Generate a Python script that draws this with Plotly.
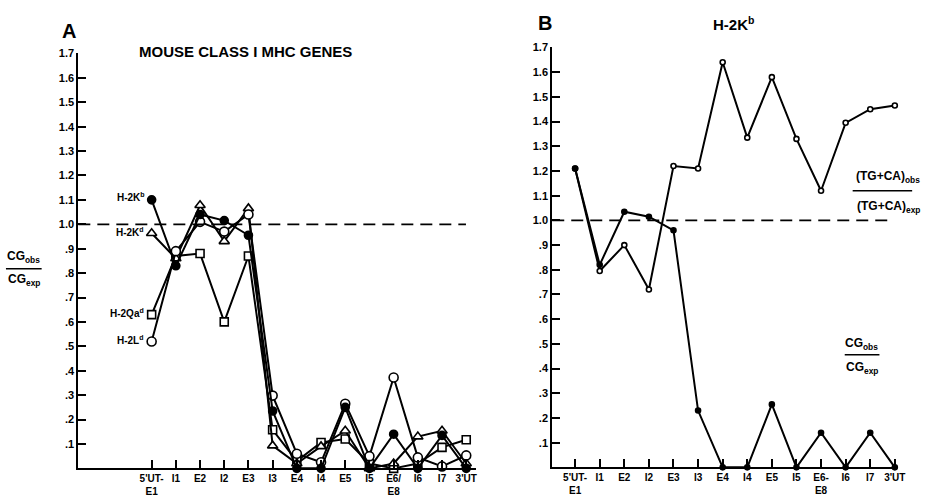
import plotly.graph_objects as go

# ---------------- data ----------------
cats_a = ["5'UT-<br>E1", "I1", "E2", "I2", "E3", "I3", "E4", "I4", "E5", "I5", "E6/<br>E8", "I6", "I7", "3'UT"]
cats_b = ["5'UT-<br>E1", "I1", "E2", "I2", "E3", "I3", "E4", "I4", "E5", "I5", "E6-<br>E8", "I6", "I7", "3'UT"]

h2kb = [1.10, 0.83, 1.04, 1.015, 0.955, 0.235, 0.00, 0.00, 0.25, 0.00, 0.14, 0.00, 0.135, 0.00]
h2kd = [0.963, 0.86, 1.078, 0.93, 1.065, 0.093, 0.02, 0.09, 0.154, 0.00, 0.02, 0.13, 0.154, 0.02]
h2qad = [0.63, 0.87, 0.88, 0.60, 0.87, 0.158, 0.03, 0.106, 0.12, 0.02, 0.00, 0.02, 0.086, 0.117]
h2ld = [0.52, 0.89, 1.01, 0.97, 1.04, 0.298, 0.06, 0.025, 0.265, 0.05, 0.372, 0.045, 0.008, 0.053]

tgca_b = [1.21, 0.795, 0.90, 0.72, 1.22, 1.21, 1.64, 1.335, 1.58, 1.33, 1.12, 1.395, 1.45, 1.465]
cg_b = [1.21, 0.82, 1.035, 1.015, 0.96, 0.23, 0.00, 0.00, 0.255, 0.00, 0.14, 0.00, 0.14, 0.00]

ytick_vals = [0.1, 0.2, 0.3, 0.4, 0.5, 0.6, 0.7, 0.8, 0.9, 1.0, 1.1, 1.2, 1.3, 1.4, 1.5, 1.6, 1.7]
ytick_text = [".1", ".2", ".3", ".4", ".5", ".6", ".7", ".8", ".9", "1.0", "1.1", "1.2", "1.3", "1.4", "1.5", "1.6", "1.7"]

# ---------------- figure ----------------
W, H = 938, 498
FONT = "Liberation Sans, Arial, sans-serif"
idx = list(range(len(cats_a)))

fig = go.Figure()

def add_series(x, y, xa, ya, symbol, size, filled, lw=2):
    fig.add_trace(go.Scatter(
        x=x, y=y, xaxis=xa, yaxis=ya, mode="lines+markers",
        line=dict(color="black", width=lw),
        marker=dict(symbol=symbol, size=size, color="black" if filled else "white",
                    line=dict(color="black", width=1.6)),
        showlegend=False, cliponaxis=False))

add_series(idx, h2qad, "x", "y", "square", 8, False)
add_series(idx, h2kd, "x", "y", "triangle-up", 9, False)
add_series(idx, h2ld, "x", "y", "circle", 9, False)
add_series(idx, h2kb, "x", "y", "circle", 8, True)

add_series(idx, tgca_b, "x2", "y2", "circle", 5, False)
add_series(idx, cg_b, "x2", "y2", "circle", 5, True)

def px_x(p):
    return p / W

def px_y(p):
    return 1 - p / H

axis_common = dict(showgrid=False, zeroline=False, showline=True, linecolor="black", linewidth=2,
                   ticks="inside", ticklen=8, tickwidth=2, tickcolor="black")
xfont = dict(family=FONT, size=10, color="black", weight="bold")
yfont = dict(family=FONT, size=11, color="black", weight="bold")

fig.update_layout(
    width=W, height=H, margin=dict(l=0, r=0, t=0, b=0),
    paper_bgcolor="white", plot_bgcolor="white",
    xaxis=dict(domain=[px_x(79), px_x(480)], range=[-3.03, 13.4], tickvals=idx, ticktext=cats_a,
               anchor="y", tickfont=xfont, **axis_common),
    yaxis=dict(domain=[px_y(468), px_y(48)], range=[0, 1.7], tickvals=ytick_vals, ticktext=ytick_text,
               anchor="x", tickfont=yfont, **axis_common),
    xaxis2=dict(domain=[px_x(557), px_x(905)], range=[-0.93, 13.1], tickvals=idx, ticktext=cats_b,
                anchor="y2", tickfont=xfont, **axis_common),
    yaxis2=dict(domain=[px_y(467), px_y(42)], range=[0, 1.7], tickvals=ytick_vals, ticktext=ytick_text,
                anchor="x2", tickfont=yfont, **axis_common),
)

# dashed reference lines at 1.0
fig.add_shape(type="line", xref="x domain", yref="y", x0=0.0, x1=0.975, y0=1.0, y1=1.0,
              line=dict(color="black", width=1.8, dash="12px,7px"))
fig.add_shape(type="line", xref="x2 domain", yref="y2", x0=0.0, x1=0.99, y0=1.0, y1=1.0,
              line=dict(color="black", width=1.8, dash="12px,7px"))

def text(x, y, s, size=11, xanchor="center", yanchor="middle"):
    fig.add_annotation(x=px_x(x), y=px_y(y), xref="paper", yref="paper", text=s, showarrow=False,
                       xanchor=xanchor, yanchor=yanchor,
                       font=dict(family=FONT, size=size, color="black", weight="bold"))

def frac_bar(x0, x1, y):
    fig.add_shape(type="line", xref="paper", yref="paper", x0=px_x(x0), x1=px_x(x1), y0=px_y(y), y1=px_y(y),
                  line=dict(color="black", width=1.5))

# titles
text(70, 25, "A", size=20)
text(248, 46, "MOUSE CLASS I MHC GENES", size=15)
text(550, 17, "B", size=20)
text(740, 18, "H-2K<sup>b</sup>", size=15)

# series labels in panel A
text(148, 193, "H-2K<sup>b</sup>", size=10, xanchor="right")
text(147, 229, "H-2K<sup>d</sup>", size=10, xanchor="right")
text(147, 311, "H-2Qa<sup>d</sup>", size=10, xanchor="right")
text(147, 338, "H-2L<sup>d</sup>", size=10, xanchor="right")

# y-axis fraction label in panel A
text(24, 254, "CG<sub>obs</sub>", size=12)
frac_bar(6, 42, 266)
text(24, 277, "CG<sub>exp</sub>", size=12)

# fraction labels in panel B
text(896, 173, "(TG+CA)<sub>obs</sub>", size=12)
frac_bar(860, 920, 187)
text(896, 203, "(TG+CA)<sub>exp</sub>", size=12)

text(869, 342, "CG<sub>obs</sub>", size=12)
frac_bar(852, 887, 353)
text(869, 366, "CG<sub>exp</sub>", size=12)

fig.write_html("out.html", config={"displayModeBar": False},
               post_script="document.body.style.margin='0';document.body.style.overflow='hidden';")
